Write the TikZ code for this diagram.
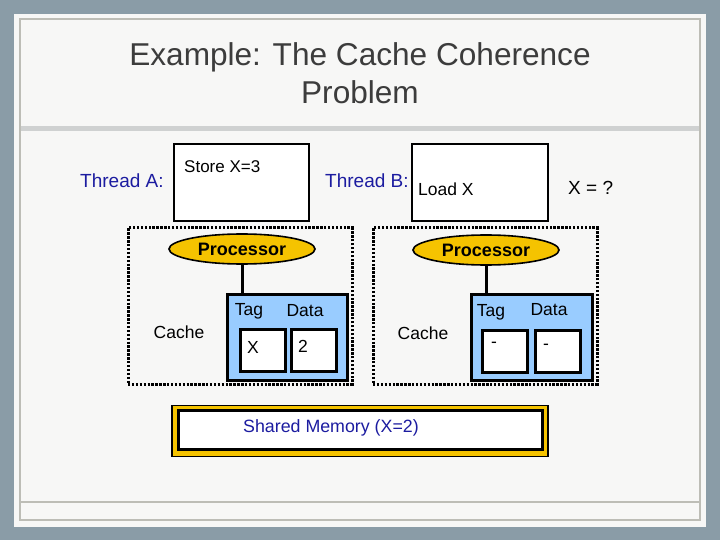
\documentclass[tikz,border=0pt]{standalone}
\usepackage{fontspec}
\setmainfont{Liberation Sans}
\usetikzlibrary{shapes.geometric}
\definecolor{pagebg}{HTML}{8A9CA7}
\definecolor{panel}{HTML}{F7F7F6}
\definecolor{frameg}{HTML}{BDBDB6}
\definecolor{bandg}{HTML}{CFD1D1}
\definecolor{titleg}{HTML}{3C3C3C}
\definecolor{navy}{HTML}{1C1CA0}
\definecolor{gold}{HTML}{F5C300}
\definecolor{cacheblue}{HTML}{99CCFF}
\tikzset{
  lbl/.style={inner sep=0pt, font=\fontsize{17.5}{20}\selectfont},
  navylbl/.style={inner sep=0pt, text=navy, font=\fontsize{19}{22}\selectfont},
  instbox/.style={draw=black, line width=1.5pt, fill=white, minimum width=#1, minimum height=77pt, inner sep=0pt},
  dotbox/.style={draw=black, line width=3pt, dash pattern=on 2.4pt off 1.5pt},
  procell/.style={ellipse, draw=black, line width=1.6pt, fill=gold, minimum width=#1, minimum height=30pt, inner sep=0pt, font=\bfseries\fontsize{18}{20}\selectfont},
  cachebox/.style={draw=black, line width=3pt, fill=cacheblue, minimum width=#1, minimum height=86pt, inner sep=0pt},
  cell/.style={draw=black, line width=3pt, fill=white, minimum width=45pt, minimum height=42pt, inner sep=0pt},
  wire/.style={draw=black, line width=3pt},
}
\begin{document}
\begin{tikzpicture}[x=1pt,y=-1pt]
\useasboundingbox (0,0) rectangle (720,540);
% slide background
\fill[pagebg] (0,0) rectangle (720,540);
\fill[panel] (14,14) rectangle (706,527);
\fill[bandg] (20,126) rectangle (700,131);
\draw[frameg, line width=1.5pt] (20,19) rectangle (700,520);
\draw[frameg, line width=1.5pt] (20,502) -- (700,502);
% title
\node[text=titleg, font=\fontsize{31.6}{38}\selectfont, align=center, inner sep=0pt] (title) at (360,73)
  {Example: The Cache Coherence\\Problem};
% threads
\node[navylbl, anchor=west] (thA) at (80,181) {Thread A:};
\node[instbox=135pt] (boxA) at (241.5,182.5) {};
\node[lbl, font=\fontsize{17}{20}\selectfont, anchor=west] (storeA) at (184,167) {Store X=3};
\node[navylbl, anchor=west] (thB) at (325,181) {Thread B:};
\node[instbox=136pt] (boxB) at (480,182.5) {};
\node[lbl, font=\fontsize{17.5}{20}\selectfont, anchor=west] (loadB) at (418,189) {Load X};
\node[lbl, font=\fontsize{19}{22}\selectfont, anchor=west] (xq) at (568,188) {X = ?};
% dotted processor boxes
\node[dotbox, minimum width=224pt, minimum height=156pt, inner sep=0pt] (pA) at (240,306) {};
\node[dotbox, minimum width=224pt, minimum height=156pt, inner sep=0pt] (pB) at (485,306) {};
% processors
\node[procell=146pt] (procA) at (242,249) {Processor};
\node[procell=146pt] (procB) at (486,250) {Processor};
% caches
\node[cachebox=120pt] (cacheA) at (287.5,337) {};
\node[cachebox=121pt] (cacheB) at (532,337) {};
\draw[wire] (procA.south) -- (procA.south |- cacheA.north);
\draw[wire] (procB.south) -- (procB.south |- cacheB.north);
\node[lbl] (tagA) at (249,311) {Tag};
\node[lbl] (dataA) at (305,311) {Data};
\node[cell] (tagcA) at (262.5,350.5) {};
\node[cell] (datacA) at (313.5,350.5) {};
\node[lbl] (xA) at (253,347) {X};
\node[lbl] (vA) at (303,346) {2};
\node[lbl] (cacheLA) at (179,332) {Cache};
\node[lbl] (tagB) at (491,312) {Tag};
\node[lbl] (dataB) at (549,310) {Data};
\node[cell] (tagcB) at (505,351.5) {};
\node[cell] (datacB) at (557.5,351.5) {};
\node[lbl] (tB) at (494,345) {-};
\node[lbl] (dB) at (546,347) {-};
\node[lbl] (cacheLB) at (423,333) {Cache};
% shared memory
\node[draw=black, line width=1.5pt, fill=gold, minimum width=376pt, minimum height=51pt, inner sep=0pt] (memo) at (360,431) {};
\node[draw=black, line width=3pt, fill=white, minimum width=364pt, minimum height=39pt, inner sep=0pt] (memi) at (360,430) {};
\node[lbl, text=navy, font=\fontsize{17.8}{20}\selectfont, anchor=west] (memt) at (243,428) {Shared Memory (X=2)};
\end{tikzpicture}
\end{document}
